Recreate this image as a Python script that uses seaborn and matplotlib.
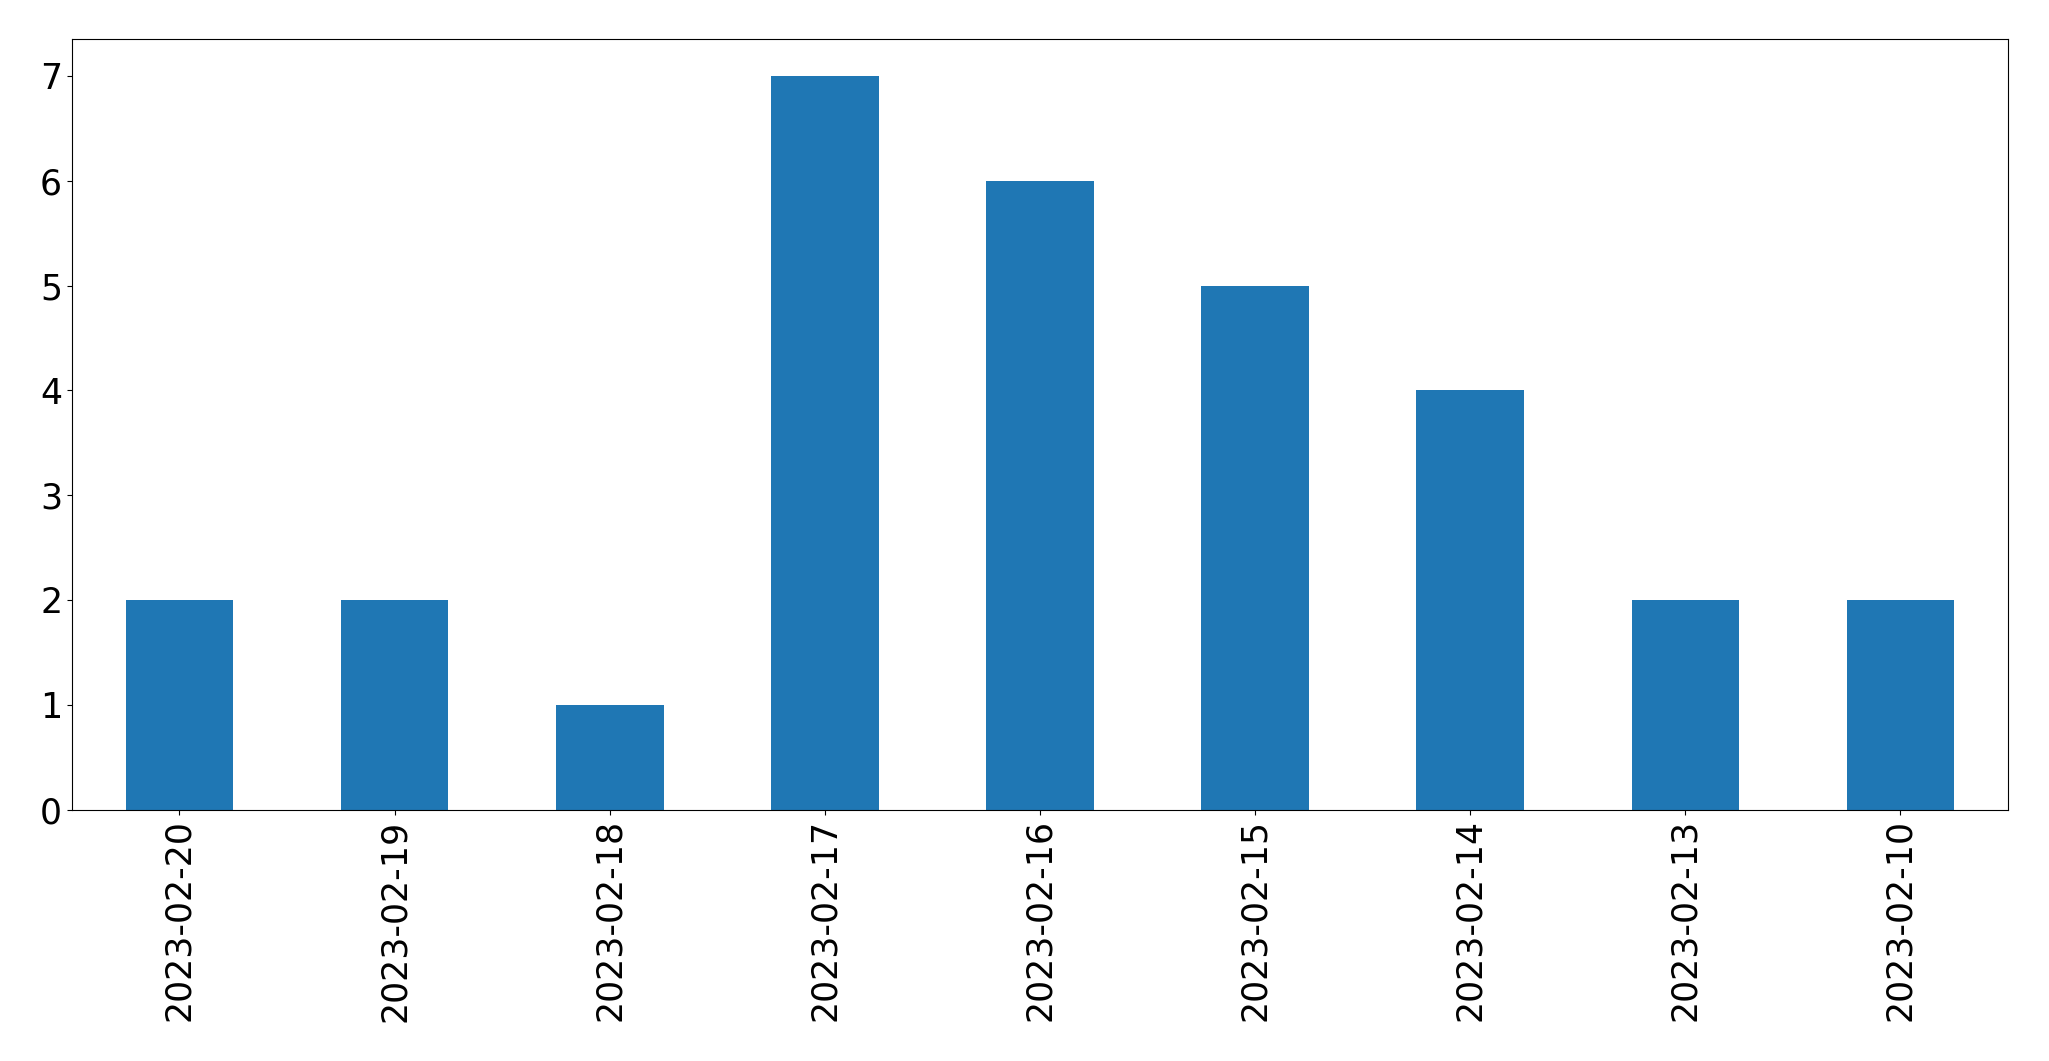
import pandas as pd
import matplotlib.pyplot as plt
import seaborn as sns

# counts per day
dates = ['2023-02-20', '2023-02-19', '2023-02-18', '2023-02-17', '2023-02-16',
         '2023-02-15', '2023-02-14', '2023-02-13', '2023-02-10']
counts = [2, 2, 1, 7, 6, 5, 4, 2, 2]

df = pd.DataFrame({'date': dates, 'count': counts})

sns.set_style("ticks")
plt.rcParams['font.family'] = ['DejaVu Sans']

fig, ax = plt.subplots(figsize=(20.49, 10.61), dpi=100)
fig.subplots_adjust(left=0.0351, right=0.980, top=0.963, bottom=0.237)

sns.barplot(data=df, x='date', y='count', order=dates, color='#1f77b4',
            saturation=1, width=0.5, edgecolor='none', linewidth=0, ax=ax)

ax.set_xlim(-0.5, len(dates) - 0.5)
ax.set_ylim(0, 7.35)
ax.set_xlabel('')
ax.set_ylabel('')
ax.tick_params(axis='both', labelsize=25, colors='black')
ax.tick_params(axis='x', labelrotation=90)
for s in ax.spines.values():
    s.set_color('black')

plt.savefig('out.png', dpi=100)
plt.close()
